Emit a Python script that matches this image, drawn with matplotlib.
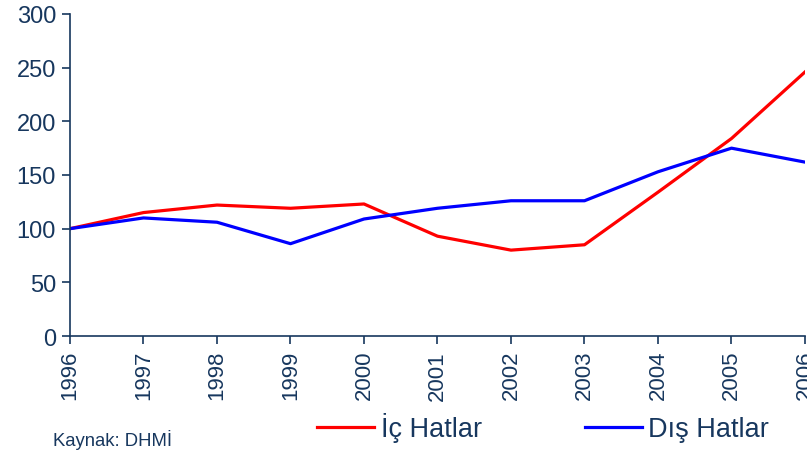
import matplotlib.pyplot as plt

years = [1996, 1997, 1998, 1999, 2000, 2001, 2002, 2003, 2004, 2005, 2006]
ic_hatlar = [100, 115, 122, 119, 123, 93, 80, 85, 134, 184, 246]
dis_hatlar = [100, 110, 106, 86, 109, 119, 126, 126, 153, 175, 162]

y_ticks = [0, 50, 100, 150, 200, 250, 300]

NAVY = "#17375e"

plt.rcParams["font.family"] = ["Liberation Sans", "DejaVu Sans"]

fig = plt.figure(figsize=(8.07, 4.56), dpi=100)
ax = fig.add_axes([70 / 807, 1 - 337 / 456, 735 / 807, 322 / 456])

ax.plot(years, ic_hatlar, color="#ff0000", linewidth=2.3, label="İç Hatlar")
ax.plot(years, dis_hatlar, color="#0000ff", linewidth=2.3, label="Dış Hatlar")

ax.set_xlim(years[0], years[-1])
ax.set_ylim(0, 300)
ax.set_xticks(years)
ax.set_xticklabels([str(y) for y in years], rotation=90, fontsize=16, color=NAVY)
ax.set_yticks(y_ticks)
ax.set_yticklabels([str(v) for v in y_ticks], fontsize=17, color=NAVY)

for side in ["top", "right"]:
    ax.spines[side].set_visible(False)
for side in ["left", "bottom"]:
    ax.spines[side].set_color(NAVY)
    ax.spines[side].set_linewidth(1.2)
ax.tick_params(axis="both", direction="out", length=6, width=1.2, color=NAVY, pad=4)

fig.legend(
    loc="center",
    bbox_to_anchor=(0.673, 0.061),
    ncol=2,
    frameon=False,
    fontsize=19.5,
    handlelength=2.1,
    handletextpad=0.25,
    columnspacing=3.8,
    labelcolor=NAVY,
)

fig.text(53 / 807, 1 - 440 / 456, "Kaynak: DHMİ", fontsize=13.3, color=NAVY,
         va="center", ha="left")

fig.savefig("out.png", dpi=100)
